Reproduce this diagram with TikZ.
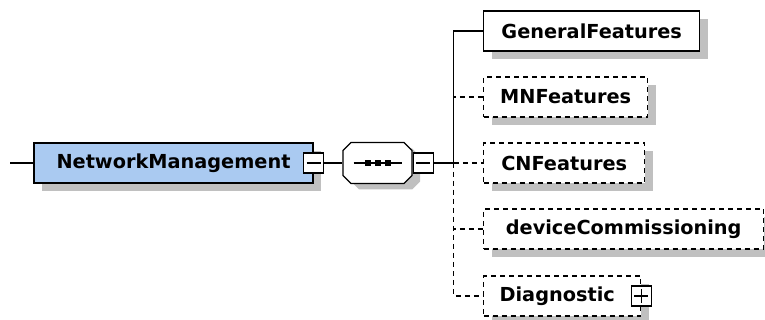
\documentclass[tikz,border=0pt]{standalone}
\usepackage{fontspec}
\setsansfont{DejaVu Sans}
\usepackage{tikz}
\usetikzlibrary{shapes, shadows, positioning}
\definecolor{elemblue}{RGB}{170,202,241}
\definecolor{shadegray}{RGB}{192,192,192}

\begin{document}
\begin{tikzpicture}[x=1pt, y=-1pt, line width=1.2pt]
      \tikzstyle{every node}=[font=\sffamily\bfseries\fontsize{19.3}{23}\selectfont]
      \tikzstyle{elem}=[rectangle, draw, fill=white, line width=1.4pt, minimum height=40pt, inner sep=0pt,
        drop shadow={shadow xshift=8pt, shadow yshift=-8pt, fill=shadegray, opacity=1}]
      \tikzstyle{optelem}=[elem, dash pattern=on 5pt off 4pt]
      \tikzstyle{optline}=[dash pattern=on 5pt off 4pt]
      \tikzstyle{seqbox}=[rectangle, minimum width=69pt, minimum height=41pt, inner sep=0pt]
      \tikzstyle{minusbox}=[rectangle, draw, fill=white, minimum size=20pt, inner sep=0pt,
        path picture={\draw ([xshift=3pt]path picture bounding box.west) -- ([xshift=-3pt]path picture bounding box.east);}]
      \tikzstyle{plusbox}=[rectangle, draw, fill=white, minimum size=20pt, inner sep=0pt,
        path picture={\draw ([xshift=3pt]path picture bounding box.west) -- ([xshift=-3pt]path picture bounding box.east);
          \draw ([yshift=3pt]path picture bounding box.south) -- ([yshift=-3pt]path picture bounding box.north);}]
      \useasboundingbox (0,0) rectangle (765,320);
      \coordinate (in) at (10,163);
      \node [elem, fill=elemblue, minimum width=279pt] (nm) at (173.5,163) {NetworkManagement};
      \node [minusbox] (nmx) at (nm.east) {};
      \node [seqbox] (seq) at (377.5,163) {};
      \begin{scope}[shift={(seq.center)}, xshift=8pt, yshift=-6pt]
        \fill [shadegray] (-26.5,-20.5) -- (26.5,-20.5) -- (34.5,-12.5) -- (34.5,12.5)
          -- (26.5,20.5) -- (-26.5,20.5) -- (-34.5,12.5) -- (-34.5,-12.5) -- cycle;
      \end{scope}
      \begin{scope}[shift={(seq.center)}]
        \draw [fill=white] (-26.5,-20.5) -- (26.5,-20.5) -- (34.5,-12.5) -- (34.5,12.5)
          -- (26.5,20.5) -- (-26.5,20.5) -- (-34.5,12.5) -- (-34.5,-12.5) -- cycle;
        \draw (-24,0) -- (24,0);
        \foreach \dx in {-10,0,10}
          \fill (\dx-3,-3) rectangle +(6,6);
      \end{scope}
      \node [minusbox, anchor=west] (seqx) at (seq.east) {};
      \coordinate [right=20pt of seqx] (bus);
      \node [elem, anchor=west, minimum width=216pt] (gen) at (483,31) {GeneralFeatures};
      \node [optelem, anchor=west, minimum width=164pt] (mn) at (483,97) {MNFeatures};
      \node [optelem, anchor=west, minimum width=161pt] (cn) at (483,163) {CNFeatures};
      \node [optelem, anchor=west, minimum width=280pt] (dc) at (483,229) {deviceCommissioning};
      \node [optelem, anchor=west, minimum width=157pt] (diag) at (483,296) {\hspace*{-10pt}Diagnostic};
      \node [plusbox] (diagx) at (diag.east) {};
      \draw (in) -- (nm);
      \draw (nmx) -- (seq);
      \draw (seqx) -- (bus);
      \draw (bus) |- (gen);
      \draw [optline] (bus) |- (mn);
      \draw [optline] (bus) -- (cn);
      \draw [optline] (bus) |- (dc);
      \draw [optline] (bus) |- (diag);
    \end{tikzpicture}
\end{document}
